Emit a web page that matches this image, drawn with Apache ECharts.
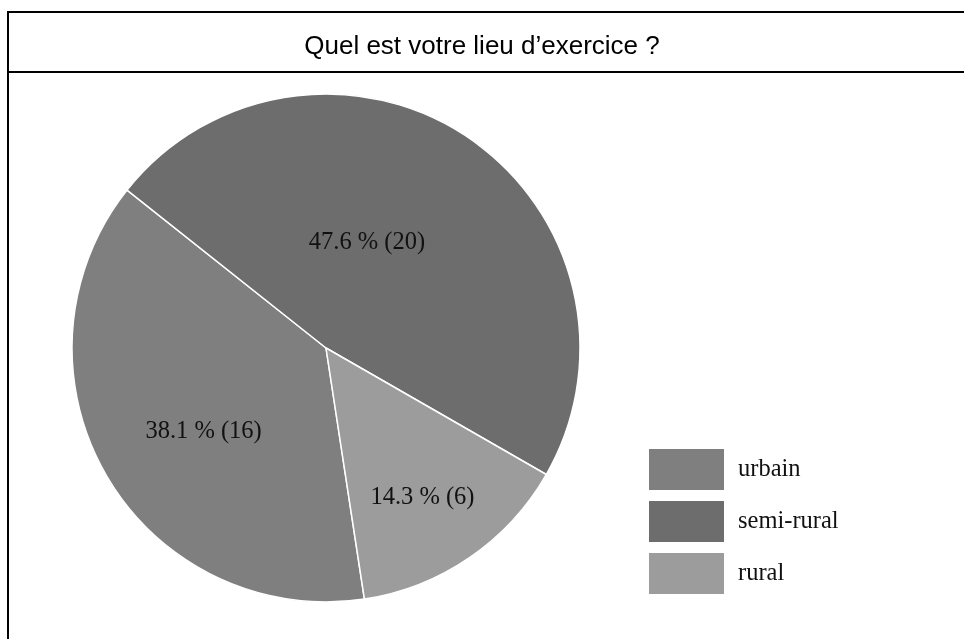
<!DOCTYPE html>
<html>
<head>
<meta charset="utf-8">
<script src="https://cdn.jsdelivr.net/npm/echarts@6/dist/echarts.min.js"></script>
<style>
  html, body { margin: 0; padding: 0; background: #fff; }
  #chart { width: 964px; height: 639px; }
</style>
</head>
<body>
<div id="chart"></div>
<script>
var categories = ['urbain', 'semi-rural', 'rural'];
var counts = [16, 20, 6];
var sliceColors = ['#7f7f7f', '#6d6d6d', '#9c9c9c'];
// nudges for the labels so they sit where the original put them
var labelOffsets = [[-10, 18], [-32, 2], [23, 42]];

var myChart = echarts.init(document.getElementById('chart'));

var pieData = categories.map(function (name, i) {
    return {
        name: name,
        value: counts[i],
        itemStyle: { color: sliceColors[i] },
        label: { offset: labelOffsets[i] }
    };
});

var option = {
    animation: false,
    backgroundColor: '#fff',
    title: {
        text: 'Quel est votre lieu d\u2019exercice ?',
        left: 'center',
        top: 29,
        textStyle: {
            fontFamily: 'Liberation Sans, Arial, sans-serif',
            fontSize: 26,
            fontWeight: 'normal',
            color: '#000'
        }
    },
    graphic: [
        // box lines round the chart
        { type: 'line', shape: { x1: 8, y1: 12, x2: 964, y2: 12 }, style: { stroke: '#000', lineWidth: 2 } },
        { type: 'line', shape: { x1: 8, y1: 11, x2: 8, y2: 639 }, style: { stroke: '#000', lineWidth: 2 } },
        { type: 'line', shape: { x1: 8, y1: 72, x2: 964, y2: 72 }, style: { stroke: '#000', lineWidth: 2 } }
    ],
    legend: {
        orient: 'vertical',
        left: 644,
        top: 444,
        icon: 'rect',
        itemWidth: 75,
        itemHeight: 41,
        itemGap: 11,
        itemStyle: { borderWidth: 0 },
        data: categories,
        textStyle: {
            fontFamily: 'Liberation Serif, Times New Roman, serif',
            fontSize: 24.5,
            color: '#111',
            padding: [0, 0, 0, 9]
        }
    },
    series: [{
        type: 'pie',
        center: [326, 348],
        radius: 254,
        startAngle: -81.3,
        clockwise: true,
        percentPrecision: 1,
        itemStyle: { borderColor: '#fff', borderWidth: 1.5 },
        label: {
            show: true,
            position: 'inside',
            formatter: function (p) { return p.percent.toFixed(1) + ' % (' + p.value + ')'; },
            fontFamily: 'Liberation Serif, Times New Roman, serif',
            fontSize: 24.5,
            color: '#111'
        },
        labelLine: { show: false },
        data: pieData
    }]
};

myChart.setOption(option);
</script>
</body>
</html>
